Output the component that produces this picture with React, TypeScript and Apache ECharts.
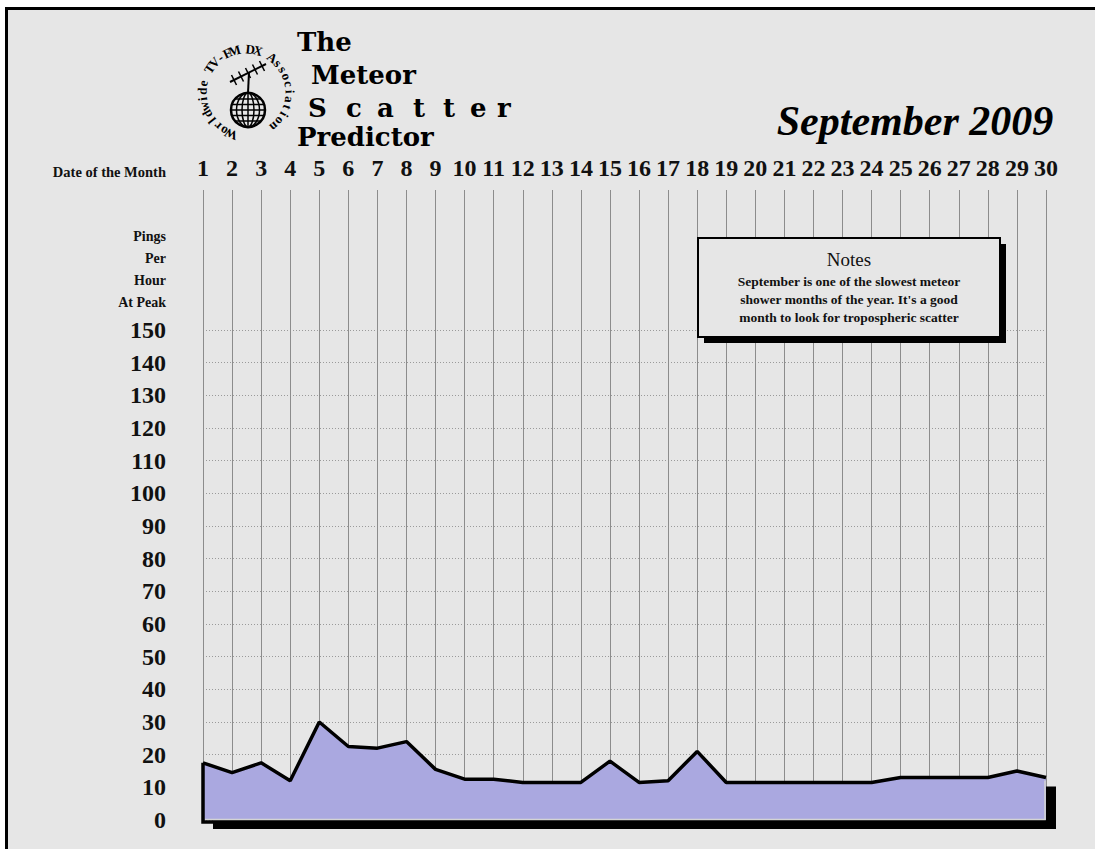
import React, { useEffect, useRef } from "react";
import * as echarts from "echarts";

const DAYS = ["1","2","3","4","5","6","7","8","9","10","11","12","13","14","15","16","17","18","19","20","21","22","23","24","25","26","27","28","29","30"];
const PINGS = [17.5, 14.5, 17.5, 12, 30, 22.5, 22, 24, 15.5, 12.5, 12.5, 11.5, 11.5, 11.5, 18, 11.5, 12, 21, 11.5, 11.5, 11.5, 11.5, 11.5, 11.5, 13, 13, 13, 13, 15, 13];
const Y_MIN = 0;
const Y_MAX = 150;
const Y_STEP = 10;
const X_AXIS_TITLE = "Date of the Month";
const Y_AXIS_TITLE = ["Pings", "Per", "Hour", "At Peak"];
const TITLE_WORDS = ["The", "Meteor", "Scatter", "Predictor"];
const MONTH_TITLE = "September 2009";
const NOTES_TITLE = "Notes";
const NOTES_LINES = [
  "September is one of the slowest meteor",
  "shower months of the year. It's a good",
  "month to look for tropospheric scatter",
];
const RING_TEXT = "Worldwide TV-FM DX Association";

const SERIF = "Liberation Serif";
const BG = "#e6e6e6";
const FILL = "#aaa8e0";

function buildLogo(): any[] {
  const els: any[] = [];
  const cx = 246, cy = 93, r = 44;
  const chars = RING_TEXT.split("");
  const start = (-160 * Math.PI) / 180;
  const end = (140 * Math.PI) / 180;
  chars.forEach((ch, i) => {
    const t = start + ((end - start) * i) / (chars.length - 1);
    els.push({
      type: "text",
      x: cx + r * Math.sin(t),
      y: cy - r * Math.cos(t),
      rotation: -t,
      z: 100,
      style: { text: ch, fontFamily: SERIF, fontWeight: "bold", fontSize: 13, fill: "#000", align: "center", verticalAlign: "middle" },
    });
  });
  // globe
  const gx = 248, gy = 110, gr = 17;
  els.push({ type: "circle", z: 100, shape: { cx: gx, cy: gy, r: gr }, style: { fill: "none", stroke: "#000", lineWidth: 2.5 } });
  els.push({ type: "ellipse", z: 100, shape: { cx: gx, cy: gy, rx: 6, ry: gr }, style: { fill: "none", stroke: "#000", lineWidth: 1.5 } });
  els.push({ type: "ellipse", z: 100, shape: { cx: gx, cy: gy, rx: 11.5, ry: gr }, style: { fill: "none", stroke: "#000", lineWidth: 1.5 } });
  els.push({ type: "line", z: 100, shape: { x1: gx, y1: gy - gr, x2: gx, y2: gy + gr }, style: { stroke: "#000", lineWidth: 1.5 } });
  [-11, -5.5, 0, 5.5, 11].forEach((d) => {
    const hw = Math.sqrt(gr * gr - d * d);
    els.push({ type: "line", z: 100, shape: { x1: gx - hw, y1: gy + d, x2: gx + hw, y2: gy + d }, style: { stroke: "#000", lineWidth: 1.5 } });
  });
  // antenna mast & boom
  els.push({ type: "line", z: 100, shape: { x1: gx, y1: gy - gr, x2: 249, y2: 72 }, style: { stroke: "#000", lineWidth: 2 } });
  els.push({ type: "line", z: 100, shape: { x1: 230, x2: 266, y1: 82, y2: 64 }, style: { stroke: "#000", lineWidth: 2 } });
  for (let k = 0; k < 5; k++) {
    const bx = 234 + k * 7;
    const by = 80 - k * 3.5;
    els.push({ type: "line", z: 100, shape: { x1: bx - 2.5, y1: by - 5, x2: bx + 2.5, y2: by + 5 }, style: { stroke: "#000", lineWidth: 1.5 } });
  }
  return els;
}

function buildGraphic(): any[] {
  const g: any[] = [];
  // outer frame
  g.push({ type: "rect", z: 120, shape: { x: 0, y: 0, width: 1095, height: 7 }, style: { fill: "#fff" } });
  g.push({ type: "rect", z: 120, shape: { x: 0, y: 0, width: 5, height: 849 }, style: { fill: "#fff" } });
  g.push({ type: "rect", z: 121, shape: { x: 5, y: 7, width: 1090, height: 3 }, style: { fill: "#000" } });
  g.push({ type: "rect", z: 121, shape: { x: 5, y: 7, width: 3, height: 842 }, style: { fill: "#000" } });

  g.push(...buildLogo());

  // title words
  const titleStyle = { fontFamily: "DejaVu Serif", fontWeight: "bold", fontSize: 26, fill: "#000", verticalAlign: "middle", align: "left" };
  g.push({ type: "text", z: 100, x: 297, y: 42, style: { ...titleStyle, text: TITLE_WORDS[0] } });
  g.push({ type: "text", z: 100, x: 311, y: 75, style: { ...titleStyle, text: TITLE_WORDS[1] } });
  const scatterX = [308, 346, 377, 413, 443, 470, 497];
  TITLE_WORDS[2].split("").forEach((ch, i) => {
    g.push({ type: "text", z: 100, x: scatterX[i], y: 108, style: { ...titleStyle, text: ch } });
  });
  g.push({ type: "text", z: 100, x: 297, y: 137, style: { ...titleStyle, text: TITLE_WORDS[3] } });

  // month title
  g.push({
    type: "text", z: 100, x: 915, y: 121,
    style: { text: MONTH_TITLE, fontFamily: SERIF, fontStyle: "italic", fontWeight: "bold", fontSize: 42, fill: "#000", align: "center", verticalAlign: "middle" },
  });

  // axis titles
  g.push({
    type: "text", z: 100, x: 166, y: 172,
    style: { text: X_AXIS_TITLE, fontFamily: SERIF, fontWeight: "bold", fontSize: 14.5, fill: "#111", align: "right", verticalAlign: "middle" },
  });
  Y_AXIS_TITLE.forEach((t, i) => {
    g.push({
      type: "text", z: 100, x: 166, y: 236 + i * 22,
      style: { text: t, fontFamily: SERIF, fontWeight: "bold", fontSize: 14, fill: "#111", align: "right", verticalAlign: "middle" },
    });
  });

  // notes box
  g.push({ type: "rect", z: 100, shape: { x: 704, y: 244, width: 302, height: 99 }, style: { fill: "#000" } });
  g.push({ type: "rect", z: 101, shape: { x: 698, y: 238, width: 302, height: 99 }, style: { fill: BG, stroke: "#000", lineWidth: 2 } });
  g.push({
    type: "text", z: 102, x: 849, y: 259,
    style: { text: NOTES_TITLE, fontFamily: SERIF, fontSize: 19, fill: "#111", align: "center", verticalAlign: "middle" },
  });
  NOTES_LINES.forEach((t, i) => {
    g.push({
      type: "text", z: 102, x: 849, y: 281 + i * 18,
      style: { text: t, fontFamily: SERIF, fontWeight: "bold", fontSize: 13.5, fill: "#111", align: "center", verticalAlign: "middle" },
    });
  });
  return g;
}

export default function App() {
  const ref = useRef<HTMLDivElement>(null);
  useEffect(() => {
    if (!ref.current) return;
    const chart = echarts.init(ref.current, null, { renderer: "svg" });
    const n = PINGS.length;
    const option: any = {
      animation: false,
      backgroundColor: BG,
      grid: [
        { left: 203, right: 49, top: 330, bottom: 29 },
        { left: 203, right: 49, top: 190, bottom: 29 },
      ],
      xAxis: [
        {
          type: "category", gridIndex: 0, data: DAYS, boundaryGap: false,
          axisLine: { show: false }, axisTick: { show: false }, axisLabel: { show: false }, splitLine: { show: false },
        },
        {
          type: "category", gridIndex: 1, data: DAYS, boundaryGap: false, position: "top",
          axisLine: { show: false }, axisTick: { show: false },
          axisLabel: { show: true, interval: 0, hideOverlap: false, margin: 22, verticalAlign: "middle", fontFamily: SERIF, fontWeight: "bold", fontSize: 24, color: "#111" },
          splitLine: { show: true, interval: 0, lineStyle: { color: "#8c8c8c", width: 1, type: "solid" } },
        },
      ],
      yAxis: [
        {
          type: "value", gridIndex: 0, min: Y_MIN, max: Y_MAX, interval: Y_STEP,
          axisLine: { show: false }, axisTick: { show: false },
          axisLabel: { margin: 37, fontFamily: SERIF, fontWeight: "bold", fontSize: 24, color: "#111" },
          splitLine: { show: true, lineStyle: { color: "#9a9a9a", width: 1, type: [1, 2] } },
        },
        {
          type: "value", gridIndex: 1, min: 0, max: 1, show: false, splitLine: { show: false },
        },
      ],
      series: [
        {
          type: "line", xAxisIndex: 0, yAxisIndex: 0, data: PINGS, symbol: "none", z: 2,
          lineStyle: { color: "#000", width: 3.5 },
          areaStyle: { color: FILL, opacity: 1 },
        },
        {
          type: "custom", xAxisIndex: 0, yAxisIndex: 0, z: 3, clip: false,
          data: [[0, PINGS[0]]],
          renderItem: (_params: any, api: any) => {
            const p0 = api.coord([0, 0]);
            const p1 = api.coord([0, PINGS[0]]);
            const q0 = api.coord([n - 1, 0]);
            const q1 = api.coord([n - 1, PINGS[n - 1]]);
            const dx = 10, dy = 9;
            return {
              type: "group",
              children: [
                {
                  type: "polygon",
                  shape: {
                    points: [
                      [p0[0] + dx, p0[1]], [q0[0], q0[1]], [q1[0], q1[1] + dy],
                      [q1[0] + dx, q1[1] + dy], [q0[0] + dx, q0[1] + dy], [p0[0] + dx, p0[1] + dy],
                    ],
                  },
                  style: { fill: "#000" },
                },
                {
                  type: "polyline",
                  shape: { points: [[p0[0] + 2, p0[1] - 0.5], [q0[0] - 1, q0[1] - 0.5], [q1[0] - 1, q1[1] + 3]] },
                  style: { stroke: "#d4d4d4", lineWidth: 1.5, fill: null },
                },
                {
                  type: "polyline",
                  shape: { points: [[p1[0], p1[1]], [p0[0], p0[1] + 2], [p0[0] + dx, p0[1] + 2]] },
                  style: { stroke: "#000", lineWidth: 3.5, fill: null },
                },
              ],
            };
          },
        },
      ],
      graphic: buildGraphic(),
    };
    chart.setOption(option);
    return () => chart.dispose();
  }, []);
  return <div ref={ref} style={{ position: "fixed", left: 0, top: 0, width: 1095, height: 849 }} />;
}
